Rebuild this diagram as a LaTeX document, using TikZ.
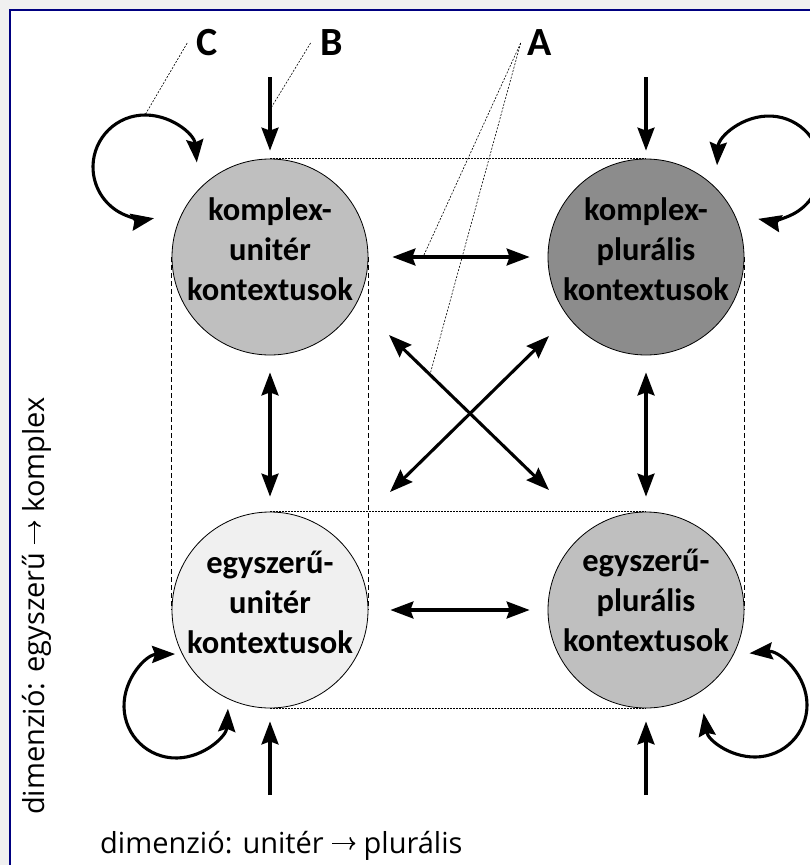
\documentclass[tikz,border=0pt]{standalone}
\usepackage{fontspec}
\setmainfont{Carlito}
\newfontfamily\captionfont{Open Sans}
\usetikzlibrary{arrows.meta,calc,backgrounds}

\definecolor{pagegray}{RGB}{240,240,240}
\definecolor{framenavy}{RGB}{0,0,128}
\definecolor{shadeKU}{RGB}{191,191,191}
\definecolor{shadeKP}{RGB}{140,140,140}
\definecolor{shadeEU}{RGB}{240,240,240}
\definecolor{shadeEP}{RGB}{191,191,191}

% arrow sign used inside the axis captions
\newcommand{\dimarrow}{\tikz[baseline=0pt]{\draw[line width=1.6pt, -{To[length=6pt,width=13pt,line width=1.6pt]}] (0pt,0.33em) -- (0.8em,0.33em);}}

\tikzset{
  ctx/.style={circle, draw=black, line width=0.8pt, minimum size=196pt, inner sep=0pt},
  ctxtext/.style={align=center, inner sep=0pt, font=\fontsize{32.5}{40}\selectfont\bfseries},
  flow/.style={line width=3.1pt, -{Stealth[length=23pt,width=17pt,inset=3pt]}},
  twoway/.style={line width=3.1pt, {Stealth[length=23pt,width=17pt,inset=3pt]}-{Stealth[length=23pt,width=17pt,inset=3pt]}},
  guideh/.style={line width=0.6pt, dash pattern=on 2pt off 1pt},
  guidev/.style={line width=0.7pt, dash pattern=on 5pt off 3pt},
  note/.style={line width=0.6pt, dash pattern=on 2pt off 1.5pt},
  letter/.style={inner sep=0pt, font=\fontsize{40}{40}\selectfont\bfseries},
  axis/.style={inner sep=0pt, font=\captionfont\fontsize{29}{29}\selectfont},
}

\begin{document}
\begin{tikzpicture}[x=1pt, y=-1pt]
\useasboundingbox (0,0) rectangle (810,865);
\clip (0,0) rectangle (810,865);

% the four context types
\node[ctx, fill=shadeKU] (kU) at (270,257) {};
\node[ctx, fill=shadeKP] (kP) at (646,257) {};
\node[ctx, fill=shadeEU] (eU) at (270,610) {};
\node[ctx, fill=shadeEP] (eP) at (646,610) {};

\node[ctxtext] (kUt) at ($(kU)+(0,-8)$) {komplex-\\unitér\\kontextusok};
\node[ctxtext] (kPt) at ($(kP)+(0,-8)$) {komplex-\\plurális\\kontextusok};
\node[ctxtext] (eUt) at ($(eU)+(0,-8)$) {egyszerű-\\unitér\\kontextusok};
\node[ctxtext] (ePt) at ($(eP)+(0,-10)$) {egyszerű-\\plurális\\kontextusok};

% incoming arrows from outside
\coordinate (kUin) at (270,77);
\coordinate (kPin) at (646,77);
\coordinate (eUin) at (270,795);
\coordinate (ePin) at (646,795);
\draw[flow, shorten >=8pt] (kUin) -- (kU.north);
\draw[flow, shorten >=8pt] (kPin) -- (kP.north);
\draw[flow, shorten >=13pt] (eUin) -- (eU.south);
\draw[flow, shorten >=13pt] (ePin) -- (eP.south);

% transitions between the types
\draw[twoway, shorten <=24pt, shorten >=18pt] (kU) -- (kP);
\draw[twoway, shorten <=22pt, shorten >=18pt] (eU) -- (eP);
\draw[twoway, shorten <=17pt, shorten >=15pt] (kU) -- (eU);
\draw[twoway, shorten <=17pt, shorten >=15pt] (kP) -- (eP);

\coordinate (xa1) at (389,335);
\coordinate (xa2) at (549,490);
\coordinate (xb1) at (549,336);
\coordinate (xb2) at (390,492);
\draw[twoway] (xa1) -- (xa2);
\draw[twoway] (xb1) -- (xb2);

% self loops
\coordinate (kUloop) at ($(kU)+(-125,-90)$);
\coordinate (kPloop) at ($(kP)+(123,-89)$);
\coordinate (eUloop) at ($(eU)+(-94,96)$);
\coordinate (ePloop) at ($(eP)+(109,95)$);
\draw[twoway] ($(kUloop)+(-5:52)$) arc[start angle=-5, end angle=-280, radius=52];
\draw[twoway] ($(kPloop)+(-177:52)$) arc[start angle=-177, end angle=102, radius=52];
\draw[twoway] ($(eUloop)+(-91:52)$) arc[start angle=-91, end angle=-357, radius=52];
\draw[twoway] ($(ePloop)+(-96:52)$) arc[start angle=-96, end angle=171, radius=52];

% callout letters
\node[letter] (lC) at (207,43) {C};
\node[letter] (lB) at (332,43) {B};
\node[letter] (lA) at (540,43) {A};
\coordinate (cEnd) at ($(kUloop)+(0,-52)$);
\coordinate (bEnd) at ($(kUin)!0.4!(kU.north)$);
\coordinate (aEnd1) at ($(kU.east)!0.305!(kP.west)$);
\coordinate (aEnd2) at ($(xa1)!0.256!(xa2)$);
\draw[note] ($(lC.west)+(-9,0)$) -- (cEnd);
\draw[note] ($(lB.west)+(-10,0)$) -- (bEnd);
\draw[note] ($(lA.west)+(-7,0)$) -- (aEnd1);
\draw[note] ($(lA.west)+(-7,0)$) -- (aEnd2);

% axis captions
\node[axis, anchor=base west] (hdim) at (100,853) {dimenzió: unitér \dimarrow{} plurális};
\node[axis, rotate=90, anchor=base west] (vdim) at (44,815) {dimenzió: egyszerű \dimarrow{} komplex};

% frame and dashed guides behind everything
\begin{scope}[on background layer]
  \fill[pagegray] (0,0) rectangle (810,865);
  \fill[white] (10,10) rectangle (820,875);
  \draw[framenavy, line width=2pt] (10,875) -- (10,10) -- (820,10);
  \draw[guideh] (kU.north) -- (kP.north);
  \draw[guideh] (eU.north) -- (eP.north);
  \draw[guideh] (eU.south) -- (eP.south);
  \draw[guidev] (kU.west) -- (eU.west);
  \draw[guidev] (kU.east) -- (eU.east);
  \draw[guidev] (kP.east) -- (eP.east);
\end{scope}
\end{tikzpicture}
\end{document}
